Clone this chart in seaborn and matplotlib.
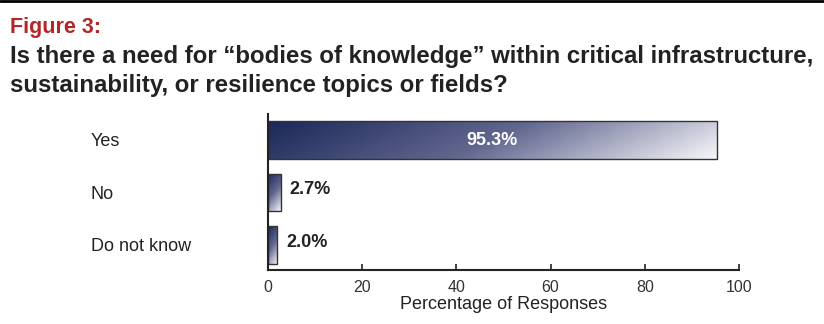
import numpy as np
import pandas as pd
import matplotlib
matplotlib.use("Agg")
import matplotlib.pyplot as plt
import matplotlib.transforms as mtransforms
from matplotlib.colors import LinearSegmentedColormap
import seaborn as sns

categories = ["Yes", "No", "Do not know"]
values = [95.3, 2.7, 2.0]
value_labels = ["95.3%", "2.7%", "2.0%"]
xticks = [0, 20, 40, 60, 80, 100]
fig_label = "Figure 3:"
title_lines = ["Is there a need for \u201cbodies of knowledge\u201d within critical infrastructure,",
               "sustainability, or resilience topics or fields?"]
xlabel = "Percentage of Responses"

sns.set_theme(style="white")
plt.rcParams['font.family'] = ['Liberation Sans', 'DejaVu Sans']

df = pd.DataFrame({"cat": categories, "val": values})

fig = plt.figure(figsize=(8.24, 3.24), dpi=100)
ax = fig.add_axes([268/824, 1-270/324, (739-268)/824, (270-114)/324])

sns.barplot(data=df, y="cat", x="val", orient="h", ax=ax, width=0.72,
            color="white", edgecolor="#333333", linewidth=1.0)

cmap = LinearSegmentedColormap.from_list("g", ["#1b2858", "#62678f", "#f6f6fa"])
for p in ax.patches:
    x0, y0 = p.get_x(), p.get_y()
    w, h = p.get_width(), p.get_height()
    u = np.linspace(0, 1, 200)[None, :]
    v = np.linspace(0, 1, 40)[:, None]
    if w > 20:
        t = 0.85 * u + 0.15 * v
    else:
        t = 0.3 * u + 0.7 * v
    im = ax.imshow(t, cmap=cmap, extent=[x0, x0 + w, y0 + h, y0], aspect="auto",
                   origin="upper", zorder=p.get_zorder() + 0.1, interpolation="bilinear")
    im.set_clip_path(p)
    p.set_facecolor("none")
    p.set_zorder(p.get_zorder() + 0.2)

ax.set_xlim(0, 100)
ax.set_ylim(2.48, -0.5)
ax.set_xticks(xticks)
ax.set_xticklabels([str(t) for t in xticks], fontsize=11.5, color="#333333")
ax.tick_params(axis="x", direction="in", length=4, width=1.2, color="#222222", pad=7, bottom=True)
ax.tick_params(axis="y", left=False, labelleft=False)
ax.set_ylabel("")
ax.set_xlabel(xlabel, fontsize=13, color="#222222", labelpad=1)
for s in ["top", "right"]:
    ax.spines[s].set_visible(False)
for s in ["left", "bottom"]:
    ax.spines[s].set_color("#222222")
    ax.spines[s].set_linewidth(1.5)

trans = mtransforms.blended_transform_factory(fig.transFigure, ax.transData)
for i, c in enumerate(categories):
    ax.text(91/824, i + 0.03, c, transform=trans, ha="left", va="center",
            fontsize=13, color="#222222")

for i, (v, lab) in enumerate(zip(values, value_labels)):
    if v > 20:
        ax.text(v / 2, i, lab, ha="center", va="center", fontsize=13,
                fontweight="bold", color="white", zorder=10)
    else:
        ax.text(v + 1.8, i - 0.05, lab, ha="left", va="center", fontsize=13,
                fontweight="bold", color="#222222", zorder=10)

fig.text(10/824, 1-33/324, fig_label, fontsize=15.5, fontweight="bold",
         color="#b5262a", ha="left", va="baseline")
for k, line in enumerate(title_lines):
    fig.text(10/824, 1-(63 + 29*k)/324, line, fontsize=17.3, fontweight="bold",
             color="#222222", ha="left", va="baseline")

fig.add_artist(plt.Line2D([0, 1], [1 - 1/324, 1 - 1/324], transform=fig.transFigure,
                          color="black", lw=2))

fig.savefig("out.png", dpi=100)
